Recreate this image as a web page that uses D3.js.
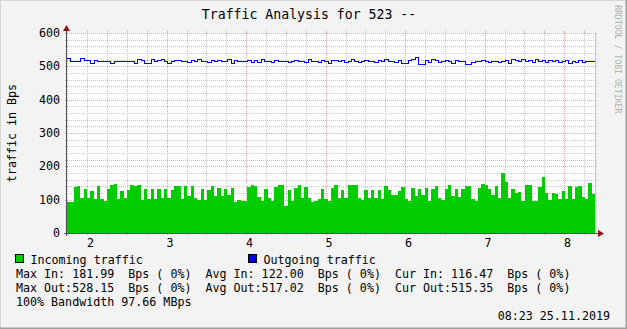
<!DOCTYPE html>
<html>
<head>
<meta charset="utf-8">
<script src="https://cdn.jsdelivr.net/npm/d3@7"></script>
<style>
  html, body { margin: 0; padding: 0; background: #f3f3f3; }
  svg { display: block; font-family: "DejaVu Sans Mono", monospace; }
  text { white-space: pre; }
</style>
</head>
<body>
<div id="chart"></div>
<script>
// incoming traffic, one value per step (Bps)
const inTraffic = [
  93, 93, 138, 141, 105, 132, 105, 126, 102, 141, 102, 96, 132, 144, 147, 102, 126, 105, 129, 144,
  141, 144, 99, 132, 102, 132, 102, 132, 105, 132, 105, 129, 141, 141, 102, 141, 111, 141, 105, 99,
  132, 99, 129, 141, 111, 135, 111, 132, 114, 135, 93, 99, 96, 96,
  138, 144, 141, 108, 96, 132, 105, 96, 138, 144, 144, 81, 129, 96, 135, 144, 105, 138, 105, 93,
  96, 102, 132, 102, 96, 135, 144, 105, 129, 105, 144, 144, 144, 105, 99, 129, 105, 129, 105, 129,
  102, 141, 129, 114, 114, 126, 138, 102, 96, 135, 111, 132, 114,
  135, 96, 132, 141, 105, 99, 132, 144, 111, 132, 108, 132, 141, 141, 102, 96, 135, 147, 144, 132,
  114, 141, 105, 180, 153, 105, 132, 120, 123, 96, 144, 144, 96, 96, 138, 168, 120, 99, 120, 117,
  102, 126, 102, 141, 102, 138, 141, 108, 102, 150, 117
];

// outgoing traffic, one value per step (Bps)
const outTraffic = [
  525, 516, 516, 516, 524, 519, 519, 510, 519, 516, 517, 517, 517, 511, 517, 516, 516, 516, 516, 516,
  509, 522, 519, 509, 509, 521, 516, 519, 522, 516, 509, 516, 519, 519, 516, 516, 513, 519, 516, 522,
  516, 516, 513, 519, 516, 519, 516, 516, 522, 510, 519, 516, 516, 516,
  519, 513, 519, 513, 522, 516, 516, 513, 519, 516, 516, 516, 513, 516, 519, 516, 516, 513, 522, 516,
  516, 513, 519, 516, 510, 519, 519, 516, 519, 513, 516, 522, 516, 513, 516, 519, 516, 516, 513, 519,
  516, 522, 516, 516, 513, 519, 510, 510, 519, 522, 528, 508, 508,
  519, 513, 522, 519, 513, 516, 519, 516, 510, 519, 516, 516, 508, 508, 513, 516, 516, 519, 516, 513,
  516, 516, 513, 516, 519, 510, 522, 519, 516, 522, 516, 519, 513, 522, 516, 519, 513, 519, 516, 519,
  513, 516, 519, 510, 516, 513, 519, 513, 516, 516, 516
];

const xTickValues = [2, 3, 4, 5, 6, 7, 8];
const xMajorGrid = [3, 4, 5, 6, 7, 8];
const yTickValues = [0, 100, 200, 300, 400, 500, 600];

const titleText = "Traffic Analysis for 523 --";
const yAxisTitle = "traffic in Bps";
const watermark = "RRDTOOL / TOBI OETIKER";
const seriesNames = ["Incoming traffic", "Outgoing traffic"];
const seriesColors = ["#00cc00", "#0000ff"];
const statRows = [
  "Max In: 181.99  Bps ( 0%)  Avg In: 122.00  Bps ( 0%)  Cur In: 116.47  Bps ( 0%)",
  "Max Out:528.15  Bps ( 0%)  Avg Out:517.02  Bps ( 0%)  Cur Out:515.35  Bps ( 0%)",
  "100% Bandwidth 97.66 MBps"
];
const stampText = "08:23 25.11.2019";

// time window (axis units)
const tStart = 1.746;
const tEnd = 8.388;

const W = 627, H = 329;
const margin = { top: 33, right: 32, bottom: 96, left: 67 };
const width = W - margin.left - margin.right;   // 528
const height = H - margin.top - margin.bottom;  // 200

const svg = d3.select("#chart").html("").append("svg")
  .attr("width", W)
  .attr("height", H);

// background + 3d border
svg.append("rect").attr("width", W).attr("height", H).attr("fill", "#f3f3f3");
svg.append("path").attr("d", `M0,${H}V0H${W}`).attr("fill", "none")
  .attr("stroke", "#d6d6d6").attr("stroke-width", 2);
svg.append("path").attr("d", `M0,${H}H${W}V0`).attr("fill", "none")
  .attr("stroke", "#9e9e9e").attr("stroke-width", 3);

const g = svg.append("g")
  .attr("transform", `translate(${margin.left},${margin.top})`);

// Scales
const x = d3.scaleLinear().domain([tStart, tEnd]).range([0, width]);
const y = d3.scaleLinear().domain([0, 600]).range([height, 0]);

// canvas
g.append("rect").attr("width", width).attr("height", height).attr("fill", "#ffffff");

const minorColor = "#c6c6c6";
const majorColor = "#e9a3a3";

// horizontal grid
const yMinor = d3.range(0, 601, 20);
yMinor.forEach(v => {
  const major = v % 100 === 0;
  const yy = Math.round(y(v)) + 0.5;
  const col = major ? majorColor : minorColor;
  g.append("line").attr("x1", 0).attr("x2", width).attr("y1", yy).attr("y2", yy)
    .attr("stroke", col).attr("stroke-dasharray", "1,1");
  g.append("line").attr("x1", -2).attr("x2", 0).attr("y1", yy).attr("y2", yy).attr("stroke", col);
  g.append("line").attr("x1", width).attr("x2", width + 2).attr("y1", yy).attr("y2", yy).attr("stroke", col);
});

// vertical grid
const xMinor = d3.range(Math.ceil(tStart * 4) / 4, tEnd, 0.25);
xMinor.forEach(t => {
  const major = xMajorGrid.some(m => Math.abs(t - m) < 1e-6);
  const xx = Math.round(x(t)) + 0.5;
  const col = major ? majorColor : minorColor;
  g.append("line").attr("x1", xx).attr("x2", xx).attr("y1", 0).attr("y2", height)
    .attr("stroke", col).attr("stroke-dasharray", "1,1");
  g.append("line").attr("x1", xx).attr("x2", xx).attr("y1", -2).attr("y2", 0).attr("stroke", col);
  g.append("line").attr("x1", xx).attr("x2", xx).attr("y1", height).attr("y2", height + 2).attr("stroke", col);
});

// data points (step after, closing point at the end of the window)
const dt = (tEnd - tStart) / inTraffic.length;
const inPts = inTraffic.map((v, i) => [tStart + i * dt, v]).concat([[tEnd, inTraffic[inTraffic.length - 1]]]);
const outPts = outTraffic.map((v, i) => [tStart + i * dt, v]).concat([[tEnd, outTraffic[outTraffic.length - 1]]]);

const area = d3.area()
  .x(d => Math.round(x(d[0])))
  .y0(y(0))
  .y1(d => Math.round(y(d[1])))
  .curve(d3.curveStepAfter);

g.append("path").datum(inPts)
  .attr("d", area)
  .attr("fill", seriesColors[0])
  .attr("shape-rendering", "crispEdges");

const line = d3.line()
  .x(d => Math.round(x(d[0])))
  .y(d => Math.round(y(d[1])) + 0.5)
  .curve(d3.curveStepAfter);

g.append("path").datum(outPts)
  .attr("d", line)
  .attr("fill", "none")
  .attr("stroke", seriesColors[1])
  .attr("stroke-width", 1)
  .attr("shape-rendering", "crispEdges");

// right edge of canvas
g.append("line").attr("x1", width + 0.5).attr("x2", width + 0.5).attr("y1", 0).attr("y2", height)
  .attr("stroke", "#c8c8c8");

// Axes
const axisColor = "#505050";
g.append("line").attr("x1", -3).attr("x2", width + 4).attr("y1", height + 0.5).attr("y2", height + 0.5)
  .attr("stroke", axisColor);
g.append("line").attr("x1", -0.5).attr("x2", -0.5).attr("y1", height + 3).attr("y2", -3)
  .attr("stroke", axisColor);

// arrows
g.append("path").attr("d", `M-4,-2L3,-2L-0.5,-8Z`).attr("fill", "#8b1010");
g.append("path").attr("d", `M${width + 3},${height - 3}L${width + 3},${height + 4}L${width + 9},${height + 0.5}Z`)
  .attr("fill", "#8b1010");

// tick labels
const labelFont = "11.66px";
yTickValues.forEach(v => {
  g.append("text")
    .attr("x", -7)
    .attr("y", y(v) + 4)
    .attr("text-anchor", "end")
    .style("font-size", labelFont)
    .text(v);
});

const labelShift = 3.3 / 79.5;
xTickValues.forEach(t => {
  g.append("text")
    .attr("x", x(t + labelShift))
    .attr("y", height + 14)
    .attr("text-anchor", "middle")
    .style("font-size", labelFont)
    .text(t);
});

// titles
svg.append("text")
  .attr("x", 309)
  .attr("y", 18.5)
  .attr("text-anchor", "middle")
  .style("font-size", "13.2px")
  .text(titleText);

svg.append("text")
  .attr("transform", `translate(16,${margin.top + height / 2}) rotate(-90)`)
  .attr("text-anchor", "middle")
  .style("font-size", labelFont)
  .text(yAxisTitle);

svg.append("text")
  .attr("transform", `translate(615,5) rotate(90)`)
  .attr("text-anchor", "start")
  .style("font-size", "8.2px")
  .attr("fill", "#b0b0b0")
  .text(watermark);

// legend
const legendX = [15.5, 248.5];
seriesNames.forEach((name, i) => {
  svg.append("rect")
    .attr("x", legendX[i]).attr("y", 254.5)
    .attr("width", 8).attr("height", 8)
    .attr("fill", seriesColors[i])
    .attr("stroke", "#000");
  svg.append("text")
    .attr("x", legendX[i] + 15)
    .attr("y", 263.5)
    .style("font-size", labelFont)
    .text(name);
});

statRows.forEach((row, i) => {
  svg.append("text")
    .attr("x", 16)
    .attr("y", 277.5 + i * 14)
    .style("font-size", labelFont)
    .text(row);
});

svg.append("text")
  .attr("x", 610)
  .attr("y", 319.5)
  .attr("text-anchor", "end")
  .style("font-size", labelFont)
  .text(stampText);
</script>
</body>
</html>
